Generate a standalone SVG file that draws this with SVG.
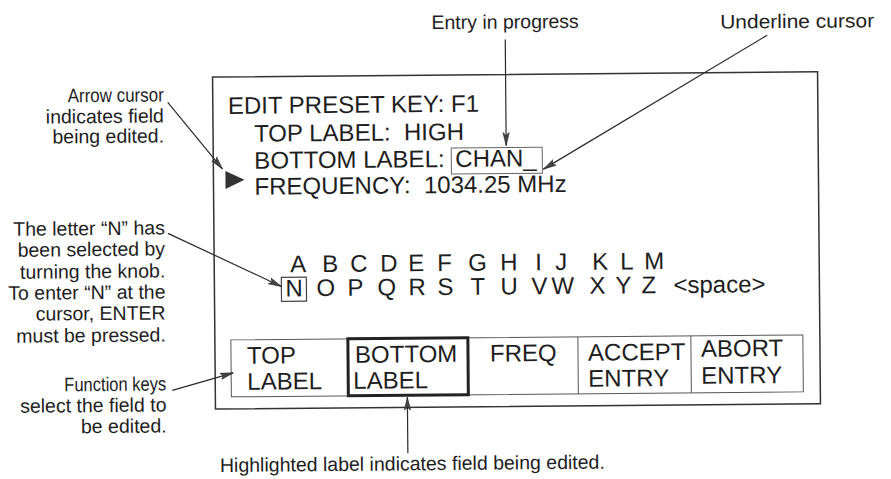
<svg xmlns="http://www.w3.org/2000/svg" width="891" height="479" viewBox="0 0 891 479">
<defs>
<marker id="ah" markerUnits="userSpaceOnUse" markerWidth="14" markerHeight="8" refX="13" refY="4" orient="auto">
<path d="M0,0.8 L13,4 L0,7.2 L3,4 z" fill="#444" stroke="#222" stroke-width="0.6"/>
</marker>
<style>
.scr{font-family:"Liberation Sans",Arial,sans-serif;font-size:24px;fill:#1e1e1e}
.ann{font-family:"Liberation Sans",Arial,sans-serif;font-size:19.5px;fill:#1e1e1e}
.r{text-anchor:end}
.con{stroke:#2a2a2a;stroke-width:1.2;fill:none;marker-end:url(#ah)}
</style>
</defs>
<rect width="891" height="479" fill="#fff"/>
<g transform="rotate(-0.5 445 240)">
<g id="screen">
<rect x="214" y="75" width="605" height="332" fill="none" stroke="#333" stroke-width="1.5"/>
<text class="scr" x="229" y="112">EDIT PRESET KEY: F1</text>
<text class="scr" x="255" y="140" xml:space="preserve">TOP LABEL:  HIGH</text>
<text class="scr" x="255" y="167">BOTTOM LABEL:</text>
<rect x="452" y="148" width="91" height="26" fill="none" stroke="#666" stroke-width="1"/>
<text class="scr" x="456" y="167">CHAN_</text>
<text class="scr" x="255" y="193" xml:space="preserve">FREQUENCY:  1034.25 MHz</text>
<polygon points="226,169 245,178 226,187" fill="#333"/>
</g>
<g id="alphabet">
<text class="scr" x="290 322 350 380 408 437 468 500 535 555 592 620 644" y="271">ABCDEFGHIJKLM</text>
<rect x="281" y="276" width="25" height="24" fill="none" stroke="#444" stroke-width="1.2"/>
<text class="scr" x="285 316 347 377 408 437 470 500 531 551 589 615 641" y="295">NOPQRSTUVWXYZ</text>
<text class="scr" x="673" y="295">&lt;space&gt;</text>
</g>
<g id="function-keys">
<rect x="230" y="338" width="572" height="57" fill="none" stroke="#555" stroke-width="1"/>
<line x1="577" y1="338" x2="577" y2="395" stroke="#555" stroke-width="1"/>
<line x1="690" y1="338" x2="690" y2="395" stroke="#555" stroke-width="1"/>
<rect x="347" y="338" width="120" height="57" fill="none" stroke="#222" stroke-width="3"/>
<text class="scr" x="246" y="362">TOP</text>
<text class="scr" x="246" y="388">LABEL</text>
<text class="scr" x="354" y="362">BOTTOM</text>
<text class="scr" x="352" y="388">LABEL</text>
<text class="scr" x="489" y="362">FREQ</text>
<text class="scr" x="587" y="362">ACCEPT</text>
<text class="scr" x="587" y="388">ENTRY</text>
<text class="scr" x="700" y="359">ABORT</text>
<text class="scr" x="700" y="386">ENTRY</text>
</g>
<g id="note-entry">
<text class="ann" x="507" y="29" text-anchor="middle">Entry in progress</text>
</g>
<g id="note-underline">
<text class="ann" x="722" y="31" textLength="154" lengthAdjust="spacingAndGlyphs">Underline cursor</text>
</g>
<g id="note-arrow">
<text class="ann r" x="165" y="99" textLength="96" lengthAdjust="spacingAndGlyphs">Arrow cursor</text>
<text class="ann r" x="165" y="120">indicates field</text>
<text class="ann r" x="165" y="140">being edited.</text>
</g>
<g id="note-letter">
<text class="ann r" x="165" y="232">The letter “N” has</text>
<text class="ann r" x="165" y="253">been selected by</text>
<text class="ann r" x="165" y="275">turning the knob.</text>
<text class="ann r" x="165" y="296">To enter “N” at the</text>
<text class="ann r" x="165" y="317">cursor, ENTER</text>
<text class="ann r" x="165" y="339">must be pressed.</text>
</g>
<g id="note-fkeys">
<text class="ann r" x="165" y="388" textLength="102" lengthAdjust="spacingAndGlyphs">Function keys</text>
<text class="ann r" x="165" y="409">select the field to</text>
<text class="ann r" x="165" y="430">be edited.</text>
</g>
<g id="note-highlight">
<text class="ann" x="218" y="470">Highlighted label indicates field being edited.</text>
</g>
<g id="connectors">
<line class="con" x1="507" y1="40" x2="507" y2="146"/>
<line class="con" x1="769" y1="38" x2="544" y2="170"/>
<line class="con" x1="169" y1="100" x2="223" y2="167"/>
<line class="con" x1="168" y1="231" x2="281" y2="285"/>
<line class="con" x1="171" y1="388" x2="232" y2="371"/>
<line class="con" x1="406" y1="453" x2="406" y2="397"/>
</g>
</g>
</svg>
